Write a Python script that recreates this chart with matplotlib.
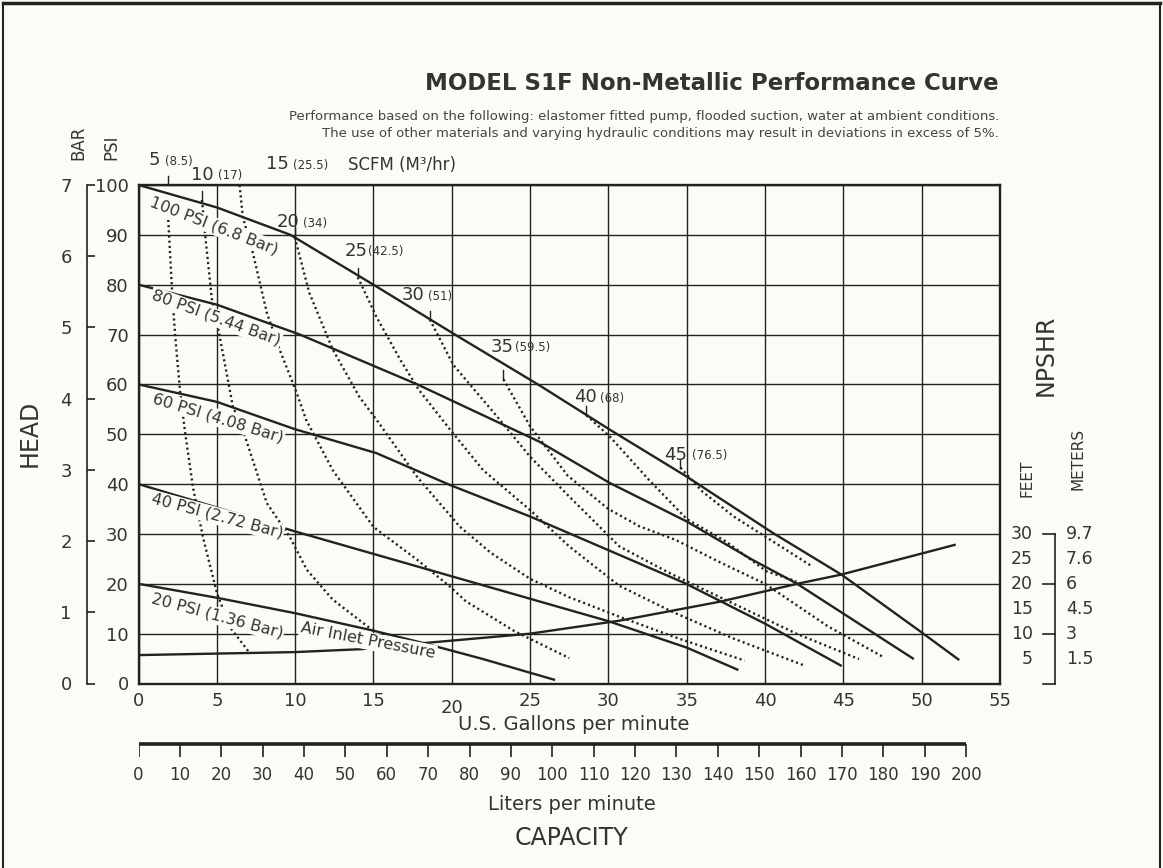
import matplotlib
matplotlib.use('Agg')
import matplotlib.pyplot as plt
import matplotlib.transforms as mtransforms

plt.rcParams['font.family'] = ['DejaVu Sans']

W, H = 1163, 868
BG = '#fcfcf6'
INK = '#222222'
TXT = '#333333'

# ---------------- data ----------------
gpm_ticks = list(range(0, 56, 5))
psi_ticks = list(range(0, 101, 10))
bar_ticks = list(range(0, 8))
lpm_ticks = list(range(0, 201, 10))
npsh_feet = [5, 10, 15, 20, 25, 30]
npsh_meters = ['1.5', '3', '4.5', '6', '7.6', '9.7']
npsh_bracket_ticks = [10, 20, 30]

# air inlet pressure curves (GPM, PSI head)
p100_x = [0, 5, 9.7, 15, 20.2, 25.6, 30.1, 35, 40.5, 44.9, 49.8, 52.4]
p100_y = [100, 95.5, 90, 80, 70, 59.8, 50.9, 41.5, 30.2, 21.8, 10.7, 4.7]
p80_x = [0, 5, 10.3, 17.8, 25.6, 30.1, 35, 39.2, 42, 49.5]
p80_y = [80, 76, 70, 60, 48.5, 40.2, 32.5, 24.8, 20.1, 4.9]
p60_x = [0, 5, 10, 15.2, 19.9, 25, 30.7, 34.9, 40, 44.9]
p60_y = [60, 56.5, 51, 46.2, 39.8, 33.5, 25.8, 20.1, 12, 3.5]
p40_x = [0, 5, 10, 15, 20, 25, 30, 35, 38.3]
p40_y = [40, 35.3, 30.5, 26, 21.5, 17, 12.5, 7.2, 2.7]
p20_x = [0, 5, 10, 15, 18.2, 22, 26.6]
p20_y = [20, 17.2, 14.1, 10.6, 8.1, 4.9, 0.7]

# NPSHR curve (GPM, feet)
npshr_x = [0, 5, 10, 14.3, 18.2, 25, 30.7, 37.1, 42.2, 44.8, 52.1]
npshr_y = [5.7, 6.0, 6.3, 6.9, 8.1, 10, 12.6, 16.4, 20.1, 21.8, 27.8]

# constant air consumption curves (SCFM)
s5_x = [1.9, 2.14, 2.33, 2.65, 2.96, 3.48, 4.12, 5.01, 5.84, 7.1]
s5_y = [93, 78.9, 70.2, 58.7, 50.7, 39.3, 29.3, 18.1, 11.3, 6.1]
s10_x = [4.05, 4.24, 4.69, 5.07, 6.03, 6.66, 8.19, 9.66, 10.75, 12.41, 15.1]
s10_y = [97, 90.4, 76.9, 71.5, 55.5, 50.9, 36.2, 29.4, 22.8, 16.8, 10.3]
s15_x = [6.45, 6.66, 7.3, 8.2, 9.02, 10.1, 10.7, 12.4, 15.0, 17.8, 19.9, 20.9, 24, 27.5]
s15_y = [100, 93.6, 86.4, 74.3, 66.9, 58.3, 52.9, 42.8, 31.4, 24.8, 19.4, 16.5, 10.5, 5.1]
s20_x = [9.98, 10.9, 12.4, 14.1, 15.2, 17.8, 20.5, 22.5, 25, 27.5, 30.7, 34.5, 38.7]
s20_y = [89.5, 78.4, 67, 57.5, 52.9, 41.4, 31.5, 26.2, 21, 17.3, 13.4, 9, 4.6]
s25_x = [14, 15.2, 16.7, 17.9, 19.9, 22, 25, 27.5, 29.4, 30.7, 34, 38, 42.6]
s25_y = [81.5, 73.5, 65, 58.9, 50.9, 42.8, 34.8, 27.5, 22.8, 19.6, 14.5, 9, 3.5]
s30_x = [18.6, 20.1, 22.8, 25, 27.5, 30.7, 34, 38, 42, 46]
s30_y = [73, 63.9, 53.9, 45.5, 37.5, 27.5, 22, 16, 10, 4.9]
s35_x = [23.3, 25, 27.4, 30, 32, 34.3, 37, 40, 44, 47.5]
s35_y = [61, 51.6, 41.7, 35, 31.5, 28.8, 24.5, 20, 11.5, 5.4]
s40_x = [28.6, 30.1, 32.6, 35, 37.5, 40.1, 42]
s40_y = [53.8, 49.5, 40.8, 33, 28.5, 22.5, 20.5]
s45_x = [34.6, 36, 38, 40.5, 43]
s45_y = [43.3, 38.5, 33.5, 28.5, 23.5]

pressure_curves = [(p100_x, p100_y), (p80_x, p80_y), (p60_x, p60_y),
                   (p40_x, p40_y), (p20_x, p20_y)]
scfm_curves = [(s5_x, s5_y), (s10_x, s10_y), (s15_x, s15_y), (s20_x, s20_y),
               (s25_x, s25_y), (s30_x, s30_y), (s35_x, s35_y),
               (s40_x, s40_y), (s45_x, s45_y)]
scfm_nums = ['5', '10', '15', '20', '25', '30', '35', '40', '45']
scfm_m3 = ['(8.5)', '(17)', '(25.5)', '(34)', '(42.5)', '(51)', '(59.5)', '(68)', '(76.5)']
pressure_labels = ['100 PSI (6.8 Bar)', '80 PSI (5.44 Bar)', '60 PSI (4.08 Bar)',
                   '40 PSI (2.72 Bar)', '20 PSI (1.36 Bar)']

# ---------------- layout helpers ----------------
fig = plt.figure(figsize=(W / 100, H / 100), dpi=100, facecolor=BG)


def fx(px):
    return px / W


def fy(py):
    return 1 - py / H


X0, X1, Y0, Y1 = 138.5, 1000, 185, 683.5
ax = fig.add_axes([fx(X0), fy(Y1), fx(X1) - fx(X0), fy(Y0) - fy(Y1)])
ax.set_facecolor(BG)
ax.set_xlim(0, 55)
ax.set_ylim(0, 100)
ax.set_xticks(gpm_ticks)
ax.set_yticks(psi_ticks)
ax.set_axisbelow(True)
ax.grid(True, color=INK, lw=1.0)
ax.tick_params(length=0, labelsize=13, labelcolor=TXT)
ax.tick_params(axis='x', pad=6)
ax.tick_params(axis='y', pad=7)
for s in ax.spines.values():
    s.set_linewidth(1.7)
    s.set_color(INK)
# the "20" GPM label sits a little lower in the original print
for lbl, v in zip(ax.get_xticklabels(), gpm_ticks):
    if v == 20:
        lbl.set_transform(lbl.get_transform() +
                          mtransforms.ScaledTranslation(0, -7 / 100, fig.dpi_scale_trans))

# pressure curves
for xs, ys in pressure_curves:
    ax.plot(xs, ys, color=INK, lw=1.7, zorder=5, solid_capstyle='butt')

# NPSHR
ax.plot(npshr_x, npshr_y, color=INK, lw=1.7, zorder=2)

# SCFM dotted curves
for xs, ys in scfm_curves:
    ax.plot(xs, ys, color=INK, lw=1.7, ls=(0, (0.9, 1.3)), zorder=2, clip_on=False)

# inline pressure labels (pixel centres, rotation)
press_lab_pos = [(214, 226, -21), (216, 318, -20), (218, 418, -17),
                 (217, 516, -15), (217, 616, -15)]
for lab, (px, py, rot) in zip(pressure_labels, press_lab_pos):
    fig.text(fx(px), fy(py), lab, fontsize=11.5, color=TXT, rotation=rot,
             ha='center', va='center', rotation_mode='anchor', zorder=4,
             bbox=dict(boxstyle='square,pad=0.08', fc=BG, ec='none'))
fig.text(fx(368), fy(641), 'Air Inlet Pressure', fontsize=11.5, color=TXT,
         rotation=-11, ha='center', va='center', rotation_mode='anchor', zorder=4,
         bbox=dict(boxstyle='square,pad=0.08', fc=BG, ec='none'))

# SCFM labels (number centre px, y px, paren left px)
scfm_lab_pos = [(154, 160, 165), (202.5, 175, 218), (277, 164, 293),
                (288, 222, 303), (356, 251, 368), (413, 295, 428),
                (502.5, 347, 515), (585, 397, 600), (676, 455, 692)]
for num, m3, (cx, cy, plx) in zip(scfm_nums, scfm_m3, scfm_lab_pos):
    fig.text(fx(cx), fy(cy), num, fontsize=13, color=TXT, ha='center', va='center')
    fig.text(fx(plx), fy(cy + 1), m3, fontsize=8.5, color=TXT, ha='left', va='center')
fig.text(fx(348), fy(165), 'SCFM (M³/hr)', fontsize=12, color=TXT, ha='left', va='center')

# small ticks joining labels to curve starts
tick_bottoms = [100, None, None, None, None, None, None, None, None]
for (xs, ys), num, tb in zip(scfm_curves, scfm_nums, tick_bottoms):
    if num == '15':
        continue
    y0 = ys[0] if tb is None else tb
    ax.plot([xs[0], xs[0]], [y0, y0 + 1.8], color=INK, lw=1.0, clip_on=False, zorder=5)

# BAR axis
sec = ax.secondary_yaxis((87 - X0) / (X1 - X0),
                         functions=(lambda p: p * 7 / 100, lambda b: b * 100 / 7))
sec.set_yticks(bar_ticks)
sec.tick_params(direction='in', length=6, width=1.2, labelsize=13,
                labelcolor=TXT, color=INK, pad=11)
for s in sec.spines.values():
    s.set_color(INK)
    s.set_linewidth(1.2)

fig.text(fx(78), fy(143), 'BAR', fontsize=12, color=TXT, rotation=90, ha='center', va='center')
fig.text(fx(111), fy(147), 'PSI', fontsize=12, color=TXT, rotation=90, ha='center', va='center')
fig.text(fx(30), fy(433), 'HEAD', fontsize=17, color=TXT, rotation=90, ha='center', va='center')

# NPSHR scale on the right
trans = mtransforms.blended_transform_factory(fig.transFigure, ax.transData)
xb = fx(1055)
ax.plot([xb, xb], [0, npsh_feet[-1]], transform=trans, color=INK, lw=1.2, clip_on=False)
for t in npsh_bracket_ticks + [0]:
    ax.plot([xb - 12 / W, xb], [t, t], transform=trans, color=INK, lw=1.2, clip_on=False)
for f, m in zip(npsh_feet, npsh_meters):
    ax.text(fx(1033), f, str(f), transform=trans, fontsize=12.5, color=TXT,
            ha='right', va='center')
    ax.text(fx(1066), f, m, transform=trans, fontsize=12.5, color=TXT,
            ha='left', va='center')
fig.text(fx(1046), fy(355), 'NPSHR', fontsize=17, color=TXT, rotation=90, ha='center', va='center')
fig.text(fx(1027), fy(478), 'FEET', fontsize=11, color=TXT, rotation=90, ha='center', va='center')
fig.text(fx(1078), fy(459), 'METERS', fontsize=11, color=TXT, rotation=90, ha='center', va='center')

# title block
fig.text(fx(999), fy(84), 'MODEL S1F Non-Metallic Performance Curve', fontsize=16.5,
         fontweight='bold', color=TXT, ha='right', va='center')
fig.text(fx(999), fy(116.5), 'Performance based on the following: elastomer fitted pump, '
         'flooded suction, water at ambient conditions.', fontsize=9.5, color='#444444',
         ha='right', va='center')
fig.text(fx(999), fy(133), 'The use of other materials and varying hydraulic conditions '
         'may result in deviations in excess of 5%.', fontsize=9.5, color='#444444',
         ha='right', va='center')

# x axis labels
fig.text(fx(574), fy(725), 'U.S. Gallons per minute', fontsize=14, color=TXT, ha='center', va='center')

# liters per minute scale
LT, LB = 744, 757
axL = fig.add_axes([fx(X0), fy(LB), fx(X1) - fx(X0), fy(LT) - fy(LB)])
axL.set_xlim(0, 55 * 3.785)
axL.set_ylim(0, 1)
axL.axis('off')
axL.plot([lpm_ticks[0], lpm_ticks[-1]], [1, 1], color=INK, lw=2.6, clip_on=False,
         solid_capstyle='butt')
axL.vlines(lpm_ticks, 0, 1, color=INK, lw=1.2)
for v in lpm_ticks:
    axL.annotate(str(v), (v, 0), xytext=(0, -18), textcoords='offset pixels',
                 fontsize=12, color=TXT, ha='center', va='center')
fig.text(fx(572), fy(805), 'Liters per minute', fontsize=14, color=TXT, ha='center', va='center')
fig.text(fx(571), fy(838), 'CAPACITY', fontsize=17, color=TXT, ha='center', va='center')

# outer frame
fig.add_artist(plt.Line2D([fx(3), fx(3)], [0, fy(3)], color=INK, lw=1.5))
fig.add_artist(plt.Line2D([fx(1160), fx(1160)], [0, fy(3)], color=INK, lw=1.5))
fig.add_artist(plt.Line2D([fx(3), fx(1160)], [fy(3), fy(3)], color=INK, lw=2.5))

fig.savefig('out.png', dpi=100, facecolor=BG)
